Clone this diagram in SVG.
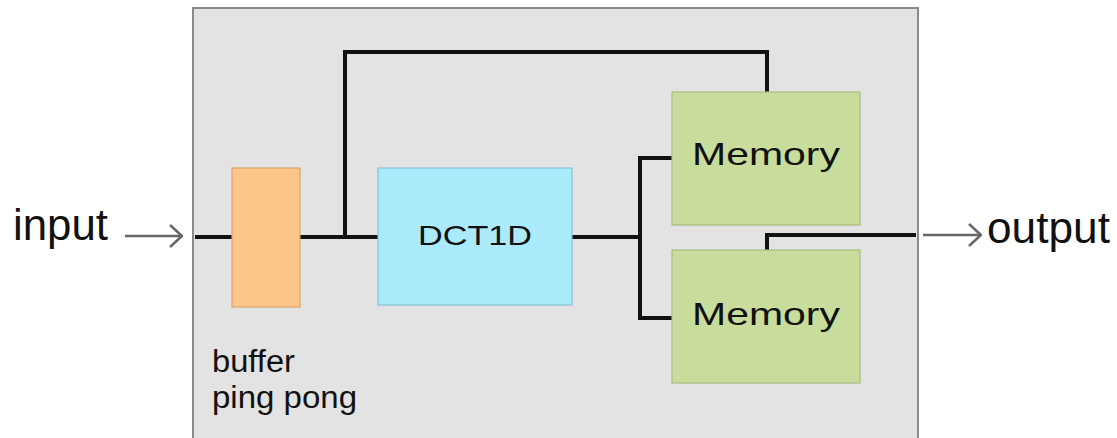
<svg xmlns="http://www.w3.org/2000/svg" width="1117" height="438" viewBox="0 0 1117 438">
<defs>
<style>
.lbl{font-family:"Liberation Sans",Arial,sans-serif;fill:#111}
.wire{fill:none;stroke:#111;stroke-width:4}
.arr{fill:none;stroke:#666;stroke-width:2.5}
.box{stroke-width:1.2}
</style>
<marker id="chev" viewBox="0 0 14 24" refX="13" refY="12" markerWidth="14" markerHeight="24" markerUnits="userSpaceOnUse" orient="auto">
<path d="M1,1 L13,12 L1,23" fill="none" stroke="#666" stroke-width="2.5"/>
</marker>
</defs>
<rect width="1117" height="438" fill="#fff"/>
<g id="container">
<rect x="193" y="8" width="725" height="440" fill="#e3e3e3" stroke="#8a8a8a" stroke-width="2"/>
</g>
<g id="connectors">
<path class="wire" d="M195,237 H378"/>
<path class="wire" d="M345,237 V52 H767 V92"/>
<path class="wire" d="M572,237 H640"/>
<path class="wire" d="M672,158 H640 V318 H672"/>
<path class="wire" d="M767,250 V235 H916"/>
<path class="arr" d="M125,236 H182" marker-end="url(#chev)"/>
<path class="arr" d="M923,235 H981" marker-end="url(#chev)"/>
</g>
<g id="buffer">
<rect class="box" x="232" y="168" width="68" height="139" fill="#fcc688" stroke="#d9a46a"/>
<text class="lbl" x="212" y="372" font-size="31" fill="#222" textLength="83" lengthAdjust="spacingAndGlyphs">buffer</text>
<text class="lbl" x="212" y="408" font-size="31" fill="#222" textLength="145" lengthAdjust="spacingAndGlyphs">ping pong</text>
</g>
<g id="dct1d">
<rect class="box" x="378" y="168" width="194" height="137" fill="#aaeafb" stroke="#86c4d8"/>
<text class="lbl" x="418" y="245" font-size="28" fill="#1c2a33" textLength="114" lengthAdjust="spacingAndGlyphs">DCT1D</text>
</g>
<g id="memory1">
<rect class="box" x="672" y="92" width="188" height="133" fill="#c8dd9b" stroke="#a8bd80"/>
<text class="lbl" x="692" y="165" font-size="32" fill="#1e2a14" textLength="148" lengthAdjust="spacingAndGlyphs">Memory</text>
</g>
<g id="memory2">
<rect class="box" x="672" y="250" width="188" height="133" fill="#c8dd9b" stroke="#a8bd80"/>
<text class="lbl" x="692" y="325" font-size="32" fill="#1e2a14" textLength="148" lengthAdjust="spacingAndGlyphs">Memory</text>
</g>
<g id="input">
<text class="lbl" x="13" y="240" font-size="44" textLength="95" lengthAdjust="spacingAndGlyphs">input</text>
</g>
<g id="output">
<text class="lbl" x="987" y="243" font-size="44" textLength="123" lengthAdjust="spacingAndGlyphs">output</text>
</g>
</svg>
